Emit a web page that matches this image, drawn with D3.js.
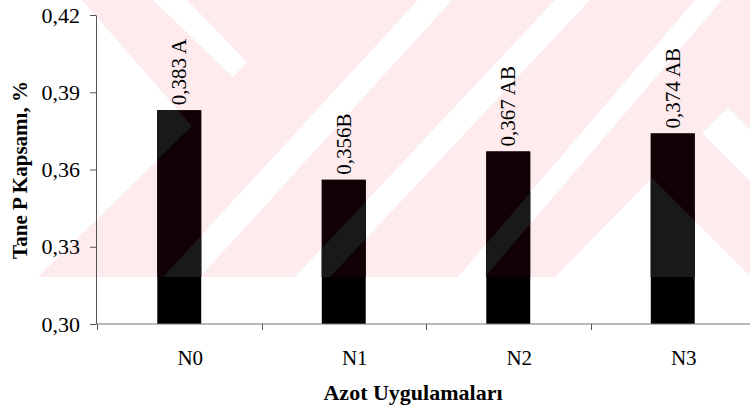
<!DOCTYPE html>
<html>
<head>
<meta charset="utf-8">
<script src="https://cdn.jsdelivr.net/npm/d3@7"></script>
<style>
  body { margin: 0; background: #fff; }
  svg { display: block; }
</style>
</head>
<body>
<svg id="chart" width="750" height="409"></svg>
<script>
// Grain phosphorus content by nitrogen treatment
const categories = ["N0", "N1", "N2", "N3"];
const values = [0.383, 0.356, 0.367, 0.374];
const groupLetters = ["A", "B", "AB", "AB"];
const letterGap = [" ", "", " ", " "];
const yTicks = [0.30, 0.33, 0.36, 0.39, 0.42];
const yTitle = "Tane P Kapsamı, %";
const xTitle = "Azot Uygulamaları";

const FONT = "'Liberation Serif'";
const W = 750, H = 409;
const svg = d3.select("#chart");

const x = d3.scaleBand()
  .domain(categories)
  .range([97, 755])
  .paddingInner(0.733)
  .paddingOuter(0.3665);

const y = d3.scaleLinear()
  .domain([0.30, 0.42])
  .range([324, 15]);

const comma = v => v.toFixed(2).replace(".", ",");
const comma3 = v => v.toFixed(3).replace(".", ",");

// Pale background emblem: pink field with white diagonal cut-outs
const emblemBottom = 277;
const emblemCuts = [
  [[0, 0], [82, 0], [192, 126], [38, 277], [0, 277]],
  [[153, 0], [187, 0], [247, 62], [233, 77]],
  [[418, 0], [452, 0], [200, 277], [163, 277]],
  [[555, 0], [590, 0], [330, 277], [295, 277]],
  [[695, 0], [722, 0], [485, 277], [458, 277]],
  [[702, 133], [728, 108], [750, 130], [750, 181]],
  [[652, 178], [751, 277], [555, 277]]
];

function drawEmblem(g, field, cut) {
  g.append("rect")
    .attr("x", 0).attr("y", 0)
    .attr("width", W).attr("height", emblemBottom)
    .attr("fill", field);
  g.selectAll("polygon")
    .data(emblemCuts)
    .join("polygon")
    .attr("points", d => d.map(p => p.join(",")).join(" "))
    .attr("fill", cut);
}

drawEmblem(svg.append("g"), "#fdebee", "#ffffff");

// Bars
const barX = (d, i) => x(categories[i]);
const barY = d => y(d);
const barH = d => y(0.30) - y(d);

svg.append("g")
  .selectAll("rect")
  .data(values)
  .join("rect")
  .attr("x", barX)
  .attr("y", barY)
  .attr("width", x.bandwidth())
  .attr("height", barH)
  .attr("fill", "#000");

// Emblem tint showing through the bars
svg.append("clipPath")
  .attr("id", "barsClip")
  .selectAll("rect")
  .data(values)
  .join("rect")
  .attr("x", barX)
  .attr("y", barY)
  .attr("width", x.bandwidth())
  .attr("height", barH);

drawEmblem(svg.append("g").attr("clip-path", "url(#barsClip)"), "#120104", "#191919");

// Y axis
const yAxis = svg.append("g")
  .attr("transform", "translate(96,0)")
  .call(d3.axisLeft(y)
    .tickValues(yTicks)
    .tickFormat(comma)
    .tickSize(6)
    .tickSizeOuter(0)
    .tickPadding(10));
yAxis.attr("font-family", null).attr("font-size", null);
yAxis.select(".domain").attr("stroke", "#555");
yAxis.selectAll(".tick line").attr("stroke", "#555");
yAxis.selectAll(".tick text")
  .attr("fill", "#000")
  .style("font-family", FONT)
  .style("font-size", "22px");

// X axis line with category boundary ticks
const xAxis = svg.append("g");
xAxis.append("line")
  .attr("x1", 96).attr("x2", W)
  .attr("y1", y(0.30)).attr("y2", y(0.30))
  .attr("stroke", "#777").attr("stroke-width", 1);
const step = x.step();
const bounds = d3.range(0, categories.length).map(i => x(categories[i]) - step * x.paddingInner() / 2);
xAxis.selectAll("line.b")
  .data(bounds)
  .join("line")
  .attr("class", "b")
  .attr("x1", d => Math.round(d) + 0.5).attr("x2", d => Math.round(d) + 0.5)
  .attr("y1", y(0.30)).attr("y2", y(0.30) + 6)
  .attr("stroke", "#555");

xAxis.selectAll("text")
  .data(categories)
  .join("text")
  .attr("x", d => x(d) + x.bandwidth() / 2)
  .attr("dx", 11)
  .attr("y", 365)
  .attr("text-anchor", "middle")
  .style("font-family", FONT)
  .style("font-size", "21px")
  .text(d => d);

// Value labels above the bars
svg.append("g")
  .selectAll("text")
  .data(values)
  .join("text")
  .attr("transform", (d, i) =>
    `translate(${x(categories[i]) + x.bandwidth() / 2 + 7},${y(d) - 5}) rotate(-90)`)
  .attr("text-anchor", "start")
  .style("font-family", FONT)
  .style("font-size", "21px")
  .text((d, i) => comma3(d) + letterGap[i] + groupLetters[i]);

// Axis titles
svg.append("text")
  .attr("transform", "translate(27,170) rotate(-90)")
  .attr("text-anchor", "middle")
  .style("font-family", FONT)
  .style("font-size", "21px")
  .style("font-weight", "bold")
  .text(yTitle);

svg.append("text")
  .attr("x", 413)
  .attr("y", 400)
  .attr("text-anchor", "middle")
  .style("font-family", FONT)
  .style("font-size", "22px")
  .style("font-weight", "bold")
  .text(xTitle);
</script>
</body>
</html>
